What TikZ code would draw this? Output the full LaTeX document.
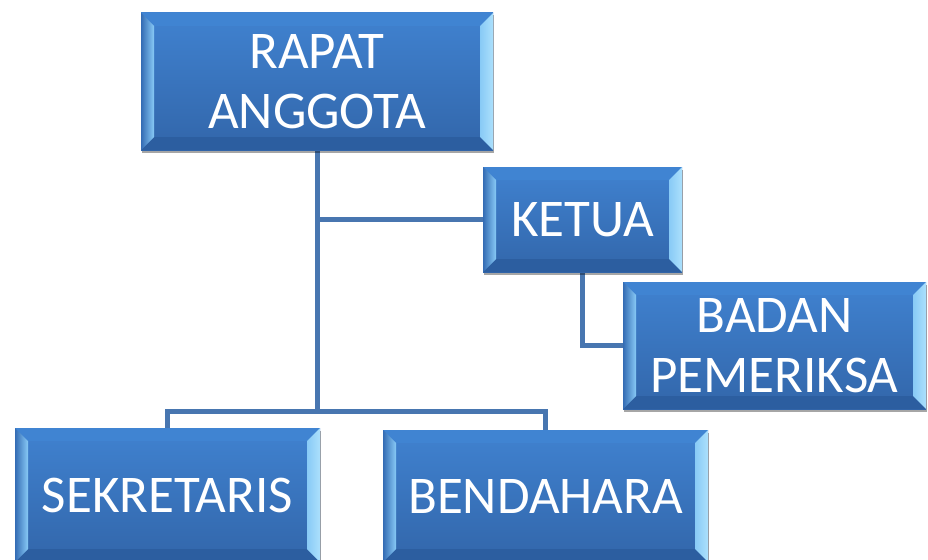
\documentclass[tikz,border=0pt]{standalone}
\usepackage{fontspec}
\newfontfamily\calibri{Carlito}
\usetikzlibrary{shadows,calc}
\definecolor{lineblue}{RGB}{72,118,176}
\definecolor{facetop}{RGB}{64,130,208}
\definecolor{facebot}{RGB}{50,102,170}
\definecolor{bevlight}{RGB}{136,202,246}
\definecolor{bevright}{RGB}{172,224,252}
\definecolor{bevleft}{RGB}{52,108,180}
\definecolor{bevdark}{RGB}{44,94,160}
\definecolor{bevtop}{RGB}{64,132,210}
\pgfdeclarelayer{bg}\pgfsetlayers{bg,main}
\newcommand{\bvw}{13pt}
\tikzset{
  orgbox/.style={rectangle, draw=none, inner sep=0pt,
    top color=facetop, bottom color=facebot,
    drop shadow={shadow xshift=0.5pt, shadow yshift=-2.5pt, opacity=0.35, fill=black},
    text=white, align=center,
    font=\calibri\fontsize{53}{60}\selectfont,
    path picture={
      \path (path picture bounding box.north west) coordinate (pNW)
            (path picture bounding box.north east) coordinate (pNE)
            (path picture bounding box.south west) coordinate (pSW)
            (path picture bounding box.south east) coordinate (pSE);
      \path ([xshift=\bvw,yshift=-\bvw]pNW) coordinate (qNW)
            ([xshift=-\bvw,yshift=-\bvw]pNE) coordinate (qNE)
            ([xshift=\bvw,yshift=\bvw]pSW) coordinate (qSW)
            ([xshift=-\bvw,yshift=\bvw]pSE) coordinate (qSE);
      \fill[bevtop] (pNW) -- (pNE) -- (qNE) -- (qNW) -- cycle;
      \fill[bevdark] (pSW) -- (pSE) -- (qSE) -- (qSW) -- cycle;
      \shade[left color=bevleft, right color=bevlight] (pNW) -- (qNW) -- (qSW) -- (pSW) -- cycle;
      \shade[left color=bevlight, right color=bevright] (pNE) -- (qNE) -- (qSE) -- (pSE) -- cycle;
    }},
  conn/.style={draw=lineblue, line width=5pt, line join=miter}
}
\begin{document}
\begin{tikzpicture}[x=1pt,y=-1pt]
\useasboundingbox (0,0) rectangle (928,559);
\clip (0,0) rectangle (928,559);
\node[orgbox, minimum width=352pt, minimum height=137pt] (rapat) at (317,81.5) {RAPAT\\ANGGOTA};
\node[orgbox, minimum width=199pt, minimum height=105pt] (ketua) at (582.5,219.5) {KETUA};
\node[orgbox, minimum width=303pt, minimum height=127pt] (badan) at (774.5,345.5) {BADAN\\PEMERIKSA};
\node[orgbox, minimum width=305pt, minimum height=134pt] (sek) at (167.5,495) {SEKRETARIS};
\node[orgbox, minimum width=325pt, minimum height=132pt] (ben) at (545.5,496) {BENDAHARA};
\coordinate (busy) at (0,411);
\begin{pgfonlayer}{bg}
\draw[conn] (rapat.south) -- (rapat.south |- busy);
\draw[conn] (sek.north) -- (sek.north |- busy) -- (ben.north |- busy) -- (ben.north);
\draw[conn] (ketua.west) -- (ketua.west -| rapat.south);
\draw[conn] (ketua.south) -- (ketua.south |- badan.west) -- (badan.west);
\end{pgfonlayer}
\end{tikzpicture}
\end{document}
